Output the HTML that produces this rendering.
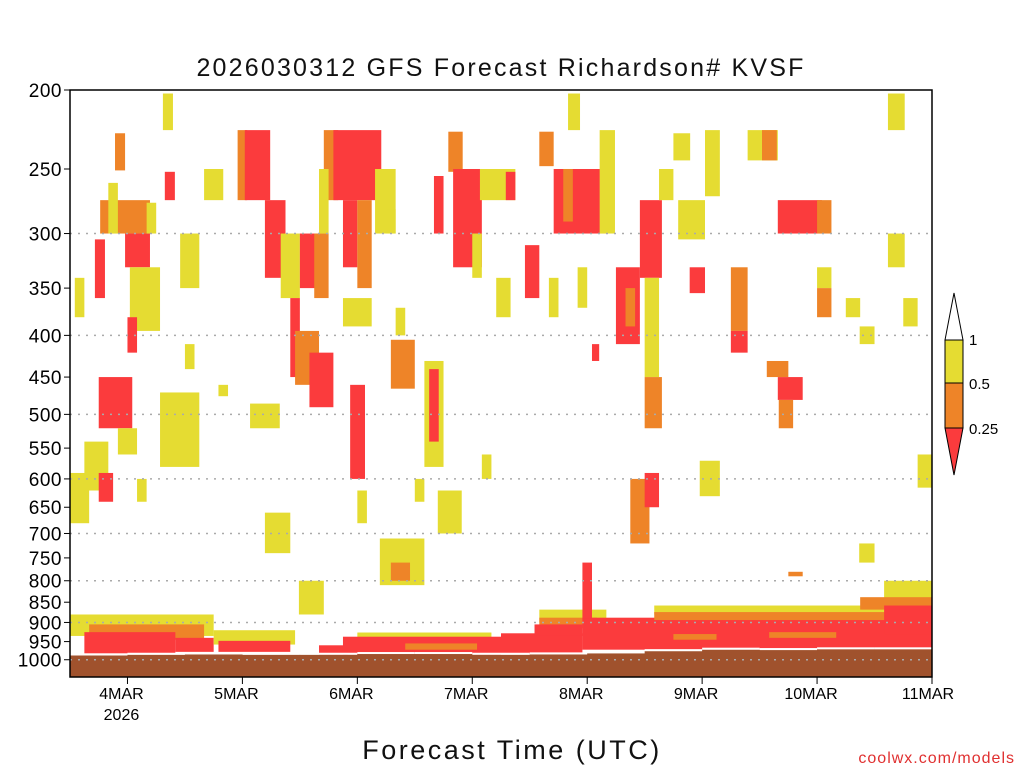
<!DOCTYPE html>
<html><head><meta charset="utf-8"><style>
body{margin:0;background:#fff;}
svg text{font-family:"Liberation Sans","DejaVu Sans",sans-serif;}
</style></head><body>
<svg id="chart" width="1024" height="768" xmlns="http://www.w3.org/2000/svg">
<rect width="1024" height="768" fill="#fff"/>
<text x="501" y="76" text-anchor="middle" font-size="25" letter-spacing="2.2" fill="#111">2026030312 GFS Forecast Richardson# KVSF</text>
<g id="cells"></g>
<g id="ground"></g>
<g id="grid"></g>
<rect x="70" y="90" width="862" height="587" fill="none" stroke="#000" stroke-width="1.5"/>
<g id="yaxis"></g>
<g id="xaxis"></g>
<text x="512" y="759" text-anchor="middle" font-size="27" letter-spacing="2.5" fill="#111">Forecast Time (UTC)</text>
<text x="1015" y="763" text-anchor="end" font-size="16" letter-spacing="1" fill="#e03030">coolwx.com/models</text>
<g>
<polygon points="945,340 963,340 954,293" fill="#fff" stroke="#000"/>
<rect x="945" y="340" width="18" height="43" fill="#e5dc32" stroke="#000"/>
<rect x="945" y="383" width="18" height="45" fill="#ee8428" stroke="#000"/>
<polygon points="945,428 963,428 954,475" fill="#fb3b3d" stroke="#000"/>
<text x="969" y="345" font-size="15">1</text>
<text x="969" y="389" font-size="15">0.5</text>
<text x="969" y="434" font-size="15">0.25</text>
</g>
</svg>
<script>
const yTicks=[200,250,300,350,400,450,500,550,600,650,700,750,800,850,900,950,1000];
const gridLevels=[300,400,500,600,700,800,900,1000];
const dayLabels=["4MAR","5MAR","6MAR","7MAR","8MAR","9MAR","10MAR","11MAR"];
const dayHours=[12,36,60,84,108,132,156,180];
const surfaceHours=[0,12,24,36,48,60,72,84,96,108,120,132,144,156,168,180];
const surfacePressure=[988,986,985,986,986,984,984,986,985,982,976,972,973,971,971,969];
// [startHour,endHour,pTop,pBottom,category 1=yellow 2=orange 3=red]
const cellStart=[], cellEnd=[], cellTop=[], cellBot=[], cellCat=[];
const blobs=[
[19.4,21.5,202,224,1],[9.4,11.5,226,251,2],[6.3,16.7,273,300,2],[11.5,16.7,300,330,3],[5.2,7.3,305,360,3],
[12.5,18.8,330,395,1],[19.8,21.9,252,273,3],[28,32,250,273,1],[35,37,224,273,2],[36.5,41.8,224,273,3],
[40.7,45,273,340,3],[44,48,300,360,1],[46,48,360,450,3],[47,52,395,460,2],[50,55,420,490,3],
[48,52,300,350,3],[51,54,300,360,2],[53,56,224,273,2],[55,65,224,273,3],[57,60,273,330,3],
[60,63,273,350,2],[58.5,61.6,460,600,3],[57,63,360,390,1],[63.7,68,250,300,1],[74,78,430,580,1],
[75,77,440,540,3],[76,78,255,300,3],[79,82,225,252,2],[80,86,250,330,3],[85.6,93,250,273,1],
[91,93,252,273,3],[95,98,310,360,3],[98,101,225,248,2],[101,112,250,300,3],[103,105,250,290,2],
[104,106.5,202,224,1],[110.6,113.8,224,300,1],[114,119,330,410,3],[116,118,350,390,2],[119,123.6,273,340,3],
[120,123,340,450,1],[120,123.6,450,520,2],[123,126,250,273,1],[126,129.5,226,244,1],[127,132.6,273,305,1],
[129.4,132.6,330,355,3],[132.6,135.7,224,270,1],[138,141.5,330,395,2],[138,141.5,395,420,3],[141.5,147.8,224,244,1],
[144.5,147.6,224,244,2],[147.8,157,273,300,3],[156,159,273,300,2],[147.8,153,450,480,3],[145.5,150,430,450,2],
[148,151,480,520,2],[156,159,330,350,1],[156,159,350,380,2],[162,165,360,380,1],[164.9,168,390,410,1],
[170.8,174.3,202,224,1],[170.8,174.3,300,330,1],[174,177,360,390,1],[177,180,560,615,1],[109,110.5,410,430,3],
[117,121,600,720,2],[120,123,590,650,3],[131.5,135.7,570,630,1],[40.7,46,660,740,1],[47.8,53,800,880,1],
[64.7,74,710,810,1],[67,71,760,800,2],[76.8,81.8,620,700,1],[18.8,27,470,580,1],[23,27,300,350,1],
[37.6,43.8,485,520,1],[67,72,405,465,2],[164.8,168,720,760,1],[150,153,780,790,2],[0,4,590,680,1],
[6,13,450,520,3],[3,8,540,620,1],[10,14,520,560,1],[1,3,340,380,1],[12,14,380,420,3],[89,92,340,380,1],
[8,10,260,300,1],[16,18,275,300,1],[24,26,410,440,1],[31,33,460,475,1],[52,54,250,300,1],
[66,68,280,300,1],[68,70,370,400,1],[84,86,300,340,1],[100,102,340,380,1],[106,108,330,370,1],
[86,88,560,600,1],[60,62,620,680,1],[72,74,600,640,1],[6,9,590,640,3],[14,16,600,640,1],
// low band
[0,30,880,935,1],[4,28,905,945,2],[3,22,925,982,3],[22,30,940,978,3],[30,47,920,958,1],[31,46,948,978,3],
[52,58,960,986,3],[60,88,926,940,1],[57,90,937,986,3],[70,85,955,972,2],[90,107,928,984,3],
[98,112,868,900,1],[98,110,888,915,2],[97,107,905,935,3],[107,180,888,972,3],[122,180,858,880,1],
[122,180,874,894,2],[170,180,800,845,1],[165,180,838,868,2],[170,180,858,930,3],[107,109,760,890,3],
[126,135,930,945,2],[146,160,925,940,2]
];
blobs.forEach(b=>{cellStart.push(b[0]);cellEnd.push(b[1]);cellTop.push(b[2]);cellBot.push(b[3]);cellCat.push(b[4]);});
const X0=70,X1=932,Y0=90,PSC=354;
const xs=h=>X0+h*(X1-X0)/180;
const ys=p=>Y0+Math.log(p/200)*PSC;
const colors=["#fff","#e5dc32","#ee8428","#fb3b3d"];
const NS="http://www.w3.org/2000/svg";
function mk(tag,parent,attrs){const e=document.createElementNS(NS,tag);for(const k in attrs)e.setAttribute(k,attrs[k]);parent.appendChild(e);return e;}
const gC=document.getElementById('cells');
for(let i=0;i<cellStart.length;i++){
 const r=mk('rect',gC,{x:xs(cellStart[i]),y:ys(cellTop[i]),width:xs(cellEnd[i])-xs(cellStart[i]),height:ys(cellBot[i])-ys(cellTop[i]),fill:colors[cellCat[i]]});
 
 
}
const gG=document.getElementById('ground');
for(let i=0;i<surfaceHours.length-1;i++){
 const y=ys(surfacePressure[i]);
 const r=mk('rect',gG,{x:xs(surfaceHours[i]),y:y,width:xs(surfaceHours[i+1])-xs(surfaceHours[i])+0.5,height:677-y,fill:"#a0522d"});
 
 
 const l=mk('rect',gG,{x:xs(surfaceHours[i]),y:y-2,width:xs(surfaceHours[i+1])-xs(surfaceHours[i]),height:2,fill:"#fff"});
 
 
}
const gr=document.getElementById('grid');
gridLevels.forEach(p=>{
 const l=mk('line',gr,{x1:X0,x2:X1,y1:ys(p),y2:ys(p),stroke:"#aaa","stroke-width":1.5,"stroke-dasharray":"2,6"});
 
 
});
const ya=document.getElementById('yaxis');
yTicks.forEach(p=>{
 const y=ys(p);
 const t=mk('line',ya,{x1:X0-6,x2:X0,y1:y,y2:y,stroke:"#000"});
 
 
 const tx=mk('text',ya,{x:X0-8,y:y+7,"text-anchor":"end","font-size":19,"letter-spacing":"0.5"});
 tx.textContent=p;
 
 
});
const xa=document.getElementById('xaxis');
dayHours.forEach((h,i)=>{
 const x=xs(h);
 const t=mk('line',xa,{x1:x,x2:x,y1:677,y2:684,stroke:"#000"});
 
 
 const tx=mk('text',xa,{x:i==dayLabels.length-1?x-4:x-6,y:699,"text-anchor":"middle","font-size":16});
 tx.textContent=dayLabels[i];
 
 
});
const yr=mk('text',xa,{x:xs(12)-6,y:720,"text-anchor":"middle","font-size":16});
yr.textContent="2026";


</script>
</body></html>
